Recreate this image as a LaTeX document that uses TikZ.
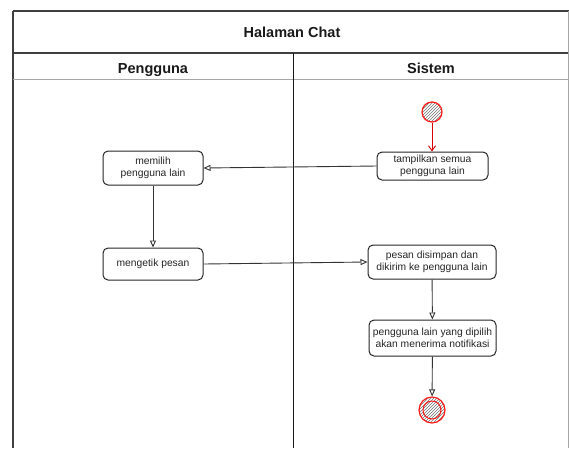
\documentclass[tikz,border=0pt]{standalone}
\usepackage{fontspec}
\setmainfont{Liberation Sans}
\usetikzlibrary{arrows.meta,patterns}
\begin{document}
\begin{tikzpicture}[x=1pt,y=-1pt,
  act/.style={draw=black!85, line width=1pt, rounded corners=5pt, fill=white,
    align=center, font=\fontsize{10.3}{12}\selectfont, text=black!85, inner sep=0pt},
  flow/.style={draw=black!80, line width=0.9pt, -{Triangle[open,length=7pt,width=6pt]}},
  redflow/.style={draw=red!85!black, line width=0.9pt, -{Straight Barb[length=5pt,width=7pt]}},
  frameline/.style={draw=black!75, line width=1.2pt},
  thinline/.style={draw=black!35, line width=0.8pt},
  lanehead/.style={font=\fontsize{14.5}{16}\selectfont\bfseries, text=black!90, anchor=base},
  startnode/.style={circle, draw=red!90, line width=1.2pt, pattern=north east lines,
    pattern color=black!55, minimum size=20pt, inner sep=0pt},
  endnode/.style={circle, draw=red!90, line width=1.2pt, pattern=north east lines,
    pattern color=black!55, minimum size=26pt, inner sep=0pt}
]
\useasboundingbox (0,0) rectangle (569,448);
% frame
\draw[frameline] (13,11) -- (569,11);
\draw[frameline] (13,11) -- (13,448);
\draw[frameline] (13,53) -- (569,53);
\draw[thinline] (13,79) -- (569,79);
\draw[thinline] (568,11) -- (568,448);
\draw[draw=black!90, line width=1pt] (293,53) -- (293,448);
% headers
\node[lanehead] (title) at (292,37) {Halaman Chat};
\node[lanehead] (lane1) at (153,73) {Pengguna};
\node[lanehead] (lane2) at (431,73) {Sistem};
% nodes
\node[startnode] (start) at (432,112) {};
\node[act, minimum width=111pt, minimum height=28pt] (tampil) at (432.5,166) {tampilkan semua\\pengguna lain};
\node[act, minimum width=100pt, minimum height=34pt] (memilih) at (153,168) {memilih\\pengguna lain};
\node[act, minimum width=100pt, minimum height=32pt] (mengetik) at (153,264) {mengetik pesan};
\node[act, minimum width=128pt, minimum height=34pt] (pesan) at (432,262) {pesan disimpan dan\\dikirim ke pengguna lain};
\node[act, minimum width=127pt, minimum height=36pt] (notif) at (432.5,338) {pengguna lain yang dipilih\\akan menerima notifikasi};
\node[endnode] (end) at (432,410) {};
\draw[draw=red!90, line width=1pt] (end.center) circle (9);
% connectors
\draw[redflow] (start) -- (start |- tampil.north);
\draw[flow] (tampil.west) -- (memilih.east);
\draw[flow] (memilih) -- (mengetik);
\draw[flow] (mengetik.east) -- (pesan.west);
\draw[flow] (pesan) -- (notif);
\draw[flow] (notif) -- (end);
\end{tikzpicture}
\end{document}
